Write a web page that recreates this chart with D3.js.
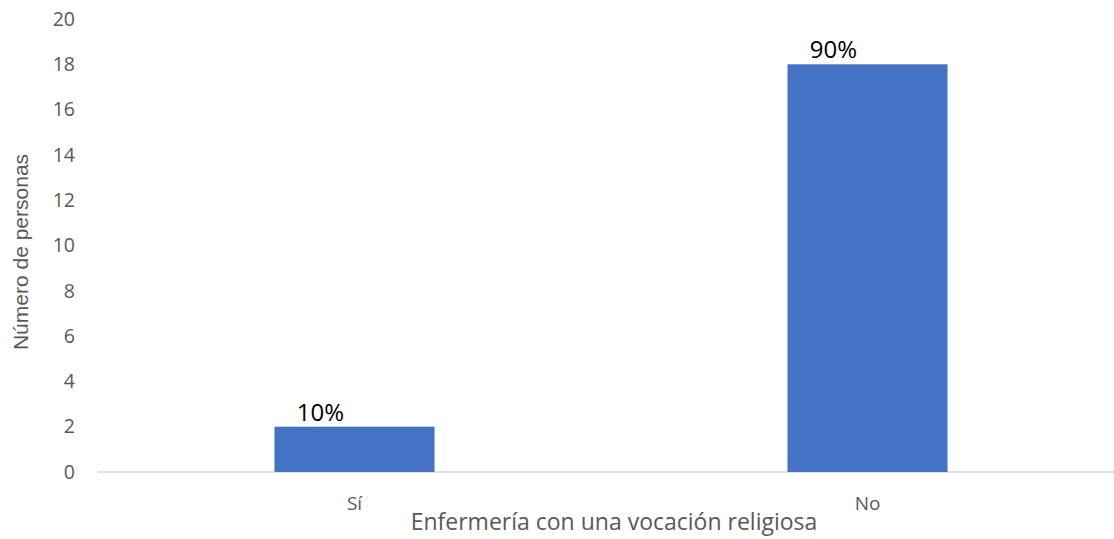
<!DOCTYPE html>
<html>
<head>
<meta charset="utf-8">
<script src="https://cdn.jsdelivr.net/npm/d3@7"></script>
<style>
  html, body { margin: 0; padding: 0; background: #fff; }
  svg { display: block; }
</style>
</head>
<body>
<svg id="chart" width="1114" height="539"></svg>
<script>
// Responses to "¿Enfermería con una vocación religiosa?"
const categories = ["Sí", "No"];
const counts = [2, 18];
const yTicks = [0, 2, 4, 6, 8, 10, 12, 14, 16, 18, 20];

const width = 1114, height = 539;
const margin = { top: 19, right: -10, bottom: 67, left: 98 };
const svg = d3.select("#chart");

const total = d3.sum(counts);
const rows = categories.map((c, i) => ({ cat: c, value: counts[i], pct: counts[i] / total }));

const x = d3.scaleBand()
  .domain(categories)
  .range([margin.left, width - margin.right])
  .padding(0);

const y = d3.scaleLinear()
  .domain([0, 20])
  .range([height - margin.bottom, margin.top]);

const barW = x.bandwidth() * 0.312;
const font = "'Open Sans', Lato, sans-serif";
const grey = "#595959";

// baseline
svg.append("line")
  .attr("x1", margin.left).attr("x2", width)
  .attr("y1", y(0)).attr("y2", y(0))
  .attr("stroke", "#d9d9d9").attr("stroke-width", 1.5);

// y axis labels
const yAxis = d3.axisLeft(y).tickValues(yTicks).tickSize(0).tickPadding(0);
const gy = svg.append("g")
  .attr("transform", `translate(${75},0)`)
  .call(yAxis);
gy.select(".domain").remove();
gy.selectAll("text")
  .attr("fill", grey).attr("font-family", font).attr("font-size", 19.5);

// bars
svg.append("g").selectAll("rect")
  .data(rows)
  .join("rect")
  .attr("x", d => x(d.cat) + x.bandwidth() / 2 - barW / 2)
  .attr("y", d => y(d.value))
  .attr("width", barW)
  .attr("height", d => y(0) - y(d.value))
  .attr("fill", "#4472c4");

// value labels
svg.append("g").selectAll("text")
  .data(rows)
  .join("text")
  .attr("x", d => x(d.cat) + x.bandwidth() / 2 - 34)
  .attr("y", d => y(d.value) - 6)
  .attr("text-anchor", "middle")
  .attr("font-family", font)
  .attr("font-size", 24)
  .attr("fill", "#000")
  .text(d => d3.format(".0%")(d.pct));

// category labels
svg.append("g").selectAll("text")
  .data(rows)
  .join("text")
  .attr("x", d => x(d.cat) + x.bandwidth() / 2)
  .attr("y", y(0) + 38)
  .attr("text-anchor", "middle")
  .attr("font-family", font)
  .attr("font-size", 19)
  .attr("fill", grey)
  .text(d => d.cat);

// axis titles
svg.append("text")
  .attr("x", 614).attr("y", 530)
  .attr("text-anchor", "middle")
  .attr("font-family", font)
  .attr("font-size", 23)
  .attr("fill", grey)
  .text("Enfermería con una vocación religiosa");

svg.append("text")
  .attr("transform", `translate(28,${252}) rotate(-90)`)
  .attr("text-anchor", "middle")
  .attr("font-family", "'Liberation Sans Narrow', 'Liberation Sans', Arial, sans-serif")
  .attr("font-size", 21)
  .attr("fill", grey)
  .text("Número de personas");
</script>
</body>
</html>
